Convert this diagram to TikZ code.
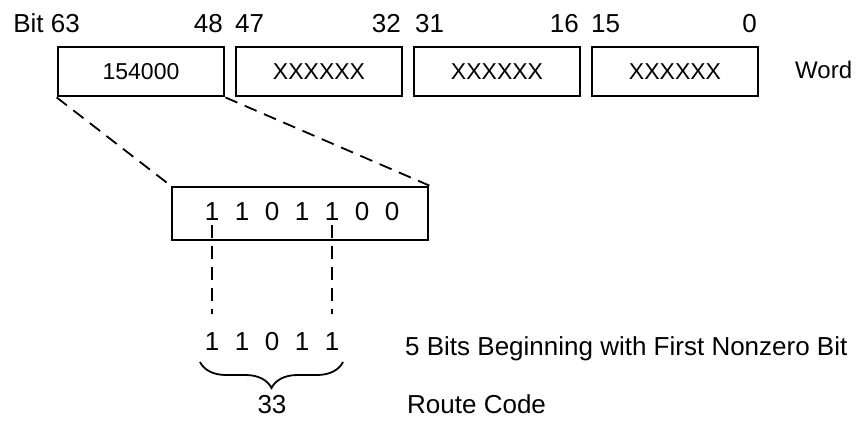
\documentclass[tikz,border=0pt]{standalone}
\usepackage{fontspec}
\setmainfont{Liberation Sans}
\usetikzlibrary{decorations.pathreplacing}

\tikzset{
  wordbox/.style={draw, line width=2.8pt, minimum width=166pt, minimum height=49pt, inner sep=0pt,
                  font=\fontsize{23}{27}\selectfont},
  bitno/.style={inner sep=0pt, anchor=base},
  cut/.style={line width=1.8pt, dash pattern=on 13pt off 8pt},
}

\begin{document}
\begin{tikzpicture}[x=1pt, y=-1pt, font=\fontsize{26}{30}\selectfont]
      \useasboundingbox (0,0) rectangle (863,421);
      \node[wordbox] (w1) at (141,71.5) {154000};
      \foreach \n/\x in {2/319, 3/497, 4/675}{
          \node[wordbox] (w\n) at (\x,71.5) {XXXXXX};
      }
      \node[bitno, anchor=base west, font=\fontsize{24}{28}\selectfont] (word) at (795,78) {Word};
      \node[bitno, anchor=base east] (bit63) at (80,32) {Bit 63};
      \foreach \t/\a/\x in {48/east/223, 47/west/235, 32/east/401, 31/west/415,
                            16/east/579, 15/west/591, 0/east/757}{
          \node[bitno, anchor=base \a] (bit\t) at (\x,32) {\t};
      }
      \node[wordbox, minimum width=256pt, minimum height=53pt] (low) at (300,213.5) {};
      \foreach \i/\v in {1/1, 2/1, 3/0, 4/1, 5/1, 6/0, 7/0}{
          \node[bitno] (b\i) at (182+30*\i,220) {\v};
      }
      \foreach \i/\v in {1/1, 2/1, 3/0, 4/1, 5/1}{
          \node[bitno] (r\i) at (182+30*\i,350) {\v};
      }
      \draw[cut] (w1.south west) -- (low.north west);
      \draw[cut] (w1.south east) -- (low.north east);
      \draw[cut] ([yshift=-5pt]b1.south) -- ([yshift=18pt]r1.north);
      \draw[cut] ([yshift=-5pt]b5.south) -- ([yshift=18pt]r5.north);
      \draw[line width=1.8pt, decorate, decoration={brace, mirror, amplitude=26pt}]
            ([xshift=-12pt,yshift=-12pt]r1.base) -- ([xshift=11pt,yshift=-12pt]r5.base);
      \node[bitno] (code) at (272,413) {33};
      \node[bitno, anchor=base west] (five) at (405,355) {5 Bits Beginning with First Nonzero Bit};
      \node[bitno, anchor=base west] (route) at (407,413) {Route Code};
  \end{tikzpicture}
\end{document}
